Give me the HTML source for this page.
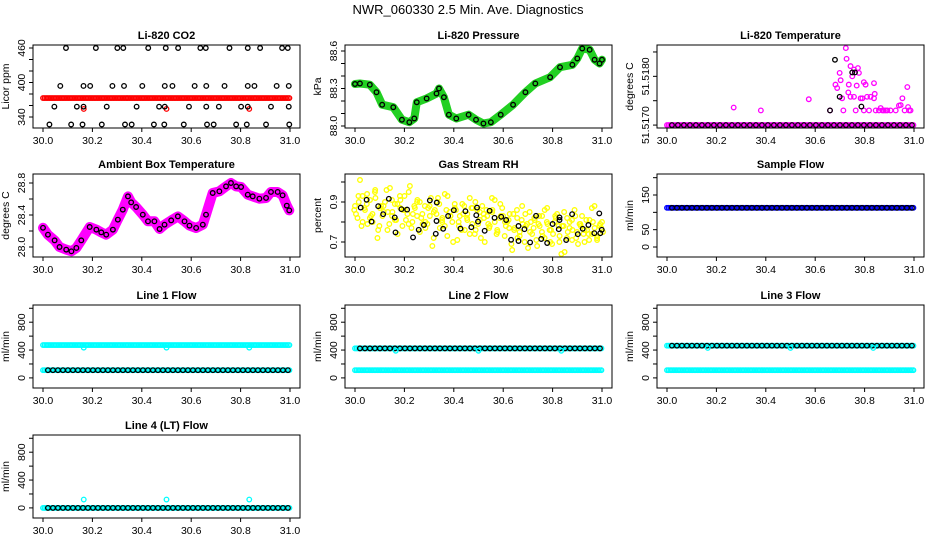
<!DOCTYPE html>
<html><head><meta charset="utf-8">
<style>
html,body{margin:0;padding:0;background:#fff;}
svg{display:block;font-family:"Liberation Sans",Arial,sans-serif;}
</style></head>
<body>
<svg id="fig" width="936" height="540" viewBox="0 0 936 540" xmlns="http://www.w3.org/2000/svg">
<rect width="936" height="540" fill="#fff"/>
<text x="468" y="14" font-size="13" text-anchor="middle">NWR_060330  2.5 Min. Ave. Diagnostics</text>
</svg>
<script>
// ---- data arrays ----
const xTicks = [30.0, 30.2, 30.4, 30.6, 30.8, 31.0];
const xTickLabels = ["30.0","30.2","30.4","30.6","30.8","31.0"];

const co2RedLevel = [373];
const co2RedDipT = [30.165, 30.5, 30.835];
const co2RedDipV = [354, 354, 354];
const co2BlackT = [30.093,30.214,30.301,30.325,30.426,30.497,30.547,30.637,30.659,30.755,30.829,30.879,30.968,30.991,
 30.07,30.164,30.191,30.281,30.328,30.402,30.493,30.524,30.614,30.661,30.735,30.829,30.856,30.946,30.995,
 30.046,30.137,30.164,30.258,30.379,30.47,30.493,30.591,30.661,30.712,30.802,30.829,30.923,30.995,
 30.026,30.114,30.16,30.238,30.332,30.359,30.449,30.491,30.57,30.664,30.691,30.782,30.825,30.903,30.997];
const co2BlackV = [460,460,460,460,460,460,460,460,460,460,460,460,460,460,
 394,394,394,394,394,394,394,394,394,394,394,394,394,394,394,
 358,358,358,358,358,358,358,358,358,358,358,358,358,358,
 327,327,327,327,327,327,327,327,327,327,327,327,327,327,327];

const presT = [30.0,30.02,30.06,30.087,30.11,30.155,30.19,30.22,30.24,30.25,30.29,30.33,30.34,30.36,30.38,30.41,30.46,30.49,30.52,30.55,30.59,30.64,30.69,30.73,30.79,30.83,30.88,30.90,30.92,30.95,30.97,30.99,31.0];
const presV = [88.336,88.34,88.33,88.27,88.17,88.15,88.05,88.03,88.06,88.19,88.22,88.26,88.30,88.23,88.09,88.06,88.09,88.05,88.02,88.03,88.09,88.17,88.27,88.34,88.39,88.47,88.49,88.54,88.62,88.61,88.53,88.50,88.53];

const tempBase = [51.5170];
const tempMagT = [30.27,30.38,30.574,30.66,30.682,30.689,30.699,30.703,30.709,30.714,30.724,30.727,30.734,30.736,30.743,30.75,30.757,30.764,30.768,30.773,30.777,30.784,30.791,30.797,30.804,30.818,30.838,30.841,30.845,30.858,30.865,30.872,30.878,30.885,30.892,30.905,30.926,30.939,30.946,30.953,30.962,30.973,30.976,30.98,30.986,30.838,30.797,30.757,30.743,30.81,30.824];
const tempMagV = [51.51736,51.51730,51.51753,51.51730,51.51783,51.51776,51.51807,51.51792,51.51755,51.51730,51.51858,51.51836,51.51767,51.51783,51.51821,51.51800,51.51814,51.51730,51.51781,51.51817,51.51807,51.51755,51.51755,51.51730,51.51783,51.51730,51.51755,51.51764,51.51730,51.51730,51.51735,51.51730,51.51730,51.51730,51.51730,51.51730,51.51730,51.51740,51.51741,51.51755,51.51730,51.51778,51.51737,51.51730,51.51730,51.51786,51.51788,51.51758,51.51758,51.51758,51.51758];
const tempBlkT = [30.68,30.699,30.75,30.761,30.787,30.66];
const tempBlkV = [51.51834,51.51758,51.51808,51.51808,51.51738,51.51730];

const ambT = [30.0,30.02,30.047,30.067,30.094,30.115,30.135,30.155,30.189,30.216,30.236,30.256,30.283,30.303,30.323,30.344,30.357,30.377,30.404,30.425,30.451,30.472,30.492,30.519,30.546,30.573,30.593,30.62,30.647,30.66,30.687,30.714,30.741,30.761,30.782,30.802,30.829,30.849,30.876,30.903,30.923,30.95,30.97,30.987,30.997];
const ambV = [28.24,28.154,28.083,28.0,27.967,27.946,27.988,28.083,28.25,28.217,28.183,28.154,28.217,28.342,28.467,28.633,28.558,28.5,28.404,28.321,28.321,28.225,28.279,28.333,28.383,28.321,28.267,28.238,28.279,28.404,28.675,28.696,28.758,28.8,28.758,28.75,28.654,28.633,28.604,28.613,28.688,28.688,28.646,28.517,28.458];

const rhBlkT = [30.023,30.047,30.067,30.094,30.114,30.137,30.161,30.164,30.188,30.211,30.235,30.258,30.279,30.303,30.327,30.33,30.331,30.357,30.377,30.4,30.427,30.447,30.471,30.491,30.494,30.498,30.525,30.545,30.565,30.592,30.612,30.632,30.662,30.662,30.686,30.709,30.733,30.754,30.778,30.8,30.825,30.828,30.828,30.855,30.879,30.902,30.922,30.945,30.969,30.989,30.993,30.999];
const rhBlkV = [0.872,0.911,0.802,0.879,0.839,0.916,0.823,0.748,0.864,0.862,0.723,0.761,0.785,0.908,0.741,0.805,0.897,0.766,0.83,0.859,0.767,0.854,0.774,0.834,0.872,0.802,0.756,0.856,0.821,0.826,0.81,0.711,0.705,0.78,0.764,0.698,0.831,0.715,0.695,0.79,0.764,0.81,0.823,0.71,0.839,0.739,0.766,0.785,0.744,0.843,0.744,0.761];
const rhYellowA = [0.88,0.82,1.01,0.93,0.86,0.79,0.91,0.84,0.95,0.72,0.87,0.83,0.90,0.76,0.97,0.85,0.81,0.89,0.93,0.78,0.86,0.84,0.98,0.80,0.87,
 0.91,0.75,0.84,0.88,0.79,0.83,0.68,0.86,0.90,0.77,0.82,0.94,0.73,0.85,0.80,0.87,0.71,0.83,0.89,0.76,0.84,0.92,0.79,0.74,0.86,0.81,0.88,0.70,0.83,0.78,0.85,0.91,0.76,0.82,0.87,
 0.73,0.80,0.84,0.66,0.77,0.82,0.75,0.88,0.70,0.79,0.85,0.74,0.81,0.68,0.78,0.83,0.72,0.87,0.76,0.69,0.80,0.84,0.73,0.78,0.65,0.82,0.77,0.71,0.86,0.75,0.79,0.83,0.70,0.76,0.81,0.74,0.88,0.72,0.78,0.80];
const rhYellowB = [0.84,0.90,0.78,0.87,0.94,0.82,0.80,0.92,0.76,0.88,0.85,0.96,0.79,0.83,0.89,0.74,0.91,0.86,0.81,0.95,0.77,0.88,0.83,0.90,0.79,
 0.80,0.87,0.92,0.72,0.84,0.89,0.81,0.78,0.93,0.83,0.70,0.86,0.80,0.76,0.88,0.82,0.74,0.87,0.90,0.79,0.72,0.84,0.86,0.77,0.92,0.80,0.75,0.89,0.83,0.78,
 0.81,0.69,0.76,0.86,0.73,0.79,0.84,0.67,0.80,0.77,0.71,0.83,0.75,0.86,0.79,0.70,0.74,0.82,0.78,0.64,0.85,0.72,0.80,0.76,0.83,0.69,0.78,0.74,0.81,0.71,0.87,0.77,0.73,0.79,0.75];
const rhYellowC = [0.86,0.93,0.80,0.89,0.83,0.96,0.78,0.88,0.85,0.91,0.81,0.87,0.93,0.79,0.84,0.90,0.82,0.77,0.88,0.85,0.92,0.80,0.86,0.83,0.89,0.78,0.84,0.81,0.87,0.76,0.85,0.82,0.79,0.86,0.74,0.83,0.80,0.77,0.84,0.72,0.81,0.78,0.75,0.82,0.79,0.73,0.80,0.76,0.83,0.70,0.78,0.75,0.81,0.72,0.79,0.76,0.74,0.80,0.71,0.77];

const sampleLevel = [113];
const line1Cyan = [472, 111]; const line1Black = [111];
const line2Cyan = [111, 424]; const line2Black = [424];
const line3Cyan = [111, 463]; const line3Black = [463];
const line4Cyan = [0]; const line4Black = [0];
const dipT = [30.165, 30.5, 30.835];
const line1DipV = [435, 435, 435];
const line2DipV = [390, 390, 390];
const line3DipV = [430, 430, 430];
const line4SpikeV = [120, 120, 120];

// ---- layout ----
const NS = "http://www.w3.org/2000/svg";
const svg = document.getElementById('fig');
const colL = [33, 345, 657], BW = 267, BH = 83;
const rowT = [45, 174, 305, 435];
function mk(tag, attrs, parent){const e=document.createElementNS(NS,tag);for(const k in attrs)e.setAttribute(k,attrs[k]);(parent||svg).appendChild(e);return e;}

function panel(name, c, r, title, ylab, yLo, yHi, yt, ytl){
  const L=colL[c], T=rowT[r], R=L+BW, B=T+BH;
  const g=mk('g',{});
  
  
  const xs=v=>L+10+(v-30)*(BW-20);
  const ys=v=>B-(v-yLo)/(yHi-yLo)*BH;
  const p={g,xs,ys,L,T,R,B};
  const plot=mk('g',{},g);
  
  
  p.plot=plot;
  const t=mk('text',{x:(L+R)/2,y:T-6,'font-size':11,'font-weight':'bold','text-anchor':'middle'},g);t.textContent=title;
  
  
  const xa=mk('g',{},g);
  
  
  xTicks.forEach((v,i)=>{mk('line',{x1:xs(v),x2:xs(v),y1:B,y2:B+4,stroke:'#000','stroke-width':1},xa);
    const tx=mk('text',{x:xs(v),y:B+16,'font-size':10.5,'text-anchor':'middle'},xa);tx.textContent=xTickLabels[i];});
  const ya=mk('g',{},g);
  
  
  yt.forEach(v=>{mk('line',{x1:L-4,x2:L,y1:ys(v),y2:ys(v),stroke:'#000','stroke-width':1},ya);});
  ytl.forEach(v=>{const s=typeof v==='string'?v:String(v);const val=parseFloat(s);
    const tx=mk('text',{x:0,y:0,'font-size':10.5,'text-anchor':'middle',transform:`translate(${L-8},${ys(val)}) rotate(-90)`},ya);tx.textContent=s;});
  const yl=mk('text',{x:0,y:0,'font-size':10.5,'text-anchor':'middle',transform:`translate(${L-24},${(T+B)/2}) rotate(-90)`},g);yl.textContent=ylab;
  
  
  p.frameDraw=()=>{const fr=mk('rect',{x:L,y:T,width:BW,height:BH,fill:'none',stroke:'#000','stroke-width':1},g);
    
    };
  return p;
}
function pt(p,x,y,col,nm){const c=mk('circle',{cx:x,cy:y,r:2.3,fill:'none',stroke:col,'stroke-width':1.3},p.plot);
  
  return c;}
function band(p,val,col,nm){const y=p.ys(val);const gg=mk('g',{},p.plot);
  
  
  for(let x=p.xs(30);x<=p.xs(31)+0.1;x+=1.6){mk('circle',{cx:x,cy:y,r:2.3,fill:'none',stroke:col,'stroke-width':1.3},gg);}}
function bandDots(p,val,col,nm,step,start){for(let x=p.xs(start||30.02);x<=p.xs(31)+0.1;x+=step){pt(p,x,p.ys(val),col,nm);}}
function curve(p,T,V,col,w,nm){const d=T.map((t,i)=>(i?'L':'M')+p.xs(t).toFixed(1)+' '+p.ys(V[i]).toFixed(1)).join(' ');
  const e=mk('path',{d,fill:'none',stroke:col,'stroke-width':w,'stroke-linejoin':'round','stroke-linecap':'round'},p.plot);
  
  }
function idxT(arr,i){return 30+i/(arr.length-1);}

let p=panel('co2',0,0,'Li-820 CO2','Licor ppm',320.9,465.2,[340,360,380,400,420,440,460],['340','400','460']);
band(p,co2RedLevel[0],'#ff0000','co2-red-band');
co2RedDipT.forEach((t,i)=>pt(p,p.xs(t),p.ys(co2RedDipV[i]),'#ff0000','co2-red-point'));
co2BlackT.forEach((t,i)=>pt(p,p.xs(t),p.ys(co2BlackV[i]),'#000','co2-black-point'));
p.frameDraw();

p=panel('pressure',1,0,'Li-820 Pressure','kPa',87.984,88.648,[88.0,88.1,88.2,88.3,88.4,88.5,88.6],['88.0','88.3','88.6']);
curve(p,presT,presV,'#22d022',8,'pressure-green-band');
presT.forEach((t,i)=>pt(p,p.xs(t),p.ys(presV[i]),'#000','pressure-point'));
p.frameDraw();

p=panel('li820-temp',2,0,'Li-820 Temperature','degrees C',51.51694,51.518643,[51.517,51.5175,51.518,51.5185],['51.5170','51.5180']);
band(p,tempBase[0],'#ff00ff','temp-magenta-band');
bandDots(p,tempBase[0],'#000','temp-baseline-point',6,30.02);
tempMagT.forEach((t,i)=>pt(p,p.xs(t),p.ys(tempMagV[i]),'#ff00ff','temp-magenta-point'));
tempBlkT.forEach((t,i)=>pt(p,p.xs(t),p.ys(tempBlkV[i]),'#000','temp-black-point'));
p.frameDraw();

p=panel('ambient-temp',0,1,'Ambient Box Temperature','degrees C',27.875,28.9125,[28.0,28.2,28.4,28.6,28.8],['28.0','28.4','28.8']);
curve(p,ambT,ambV,'#ff00ff',10,'ambient-magenta-band');
ambT.forEach((t,i)=>pt(p,p.xs(t),p.ys(ambV[i]),'#000','ambient-point'));
p.frameDraw();

p=panel('rh',1,1,'Gas Stream RH','percent',0.625,1.04,[0.7,0.8,0.9,1.0],['0.7','0.9']);
rhYellowA.forEach((v,i)=>pt(p,p.xs(idxT(rhYellowA,i)),p.ys(v),'#ffff00','rh-yellow-point'));
rhYellowB.forEach((v,i)=>pt(p,p.xs(idxT(rhYellowB,i)+0.004),p.ys(v),'#ffff00','rh-yellow-point'));
rhYellowC.forEach((v,i)=>pt(p,p.xs(idxT(rhYellowC,i)-0.003),p.ys(v),'#ffff00','rh-yellow-point'));
rhBlkT.forEach((t,i)=>pt(p,p.xs(t),p.ys(rhBlkV[i]),'#000','rh-black-point'));
p.frameDraw();

p=panel('sample-flow',2,1,'Sample Flow','ml/min',-28.8,210.6,[0,50,100,150,200],['0','50','150']);
band(p,sampleLevel[0],'#0000ff','sample-blue-band');
bandDots(p,sampleLevel[0],'#000','sample-black-point',5,30.02);
p.frameDraw();

const flowTicks=[0,200,400,600,800,1000], flowLabs=['0','400','800'];
function flowPanel(name,c,r,title,cyan,black,dipV){
  const q=panel(name,c,r,title,'ml/min',-145,1047,flowTicks,flowLabs);
  cyan.forEach(v=>band(q,v,'#00ffff',name+'-cyan-band'));
  black.forEach(v=>bandDots(q,v,'#000',name+'-black-point',5,30.02));
  dipT.forEach((t,i)=>pt(q,q.xs(t),q.ys(dipV[i]),'#00ffff',name+'-cyan-point'));
  q.frameDraw();
}
flowPanel('line1-flow',0,2,'Line 1 Flow',line1Cyan,line1Black,line1DipV);
flowPanel('line2-flow',1,2,'Line 2 Flow',line2Cyan,line2Black,line2DipV);
flowPanel('line3-flow',2,2,'Line 3 Flow',line3Cyan,line3Black,line3DipV);
flowPanel('line4-flow',0,3,'Line 4 (LT) Flow',line4Cyan,line4Black,line4SpikeV);
</script>
</body></html>
